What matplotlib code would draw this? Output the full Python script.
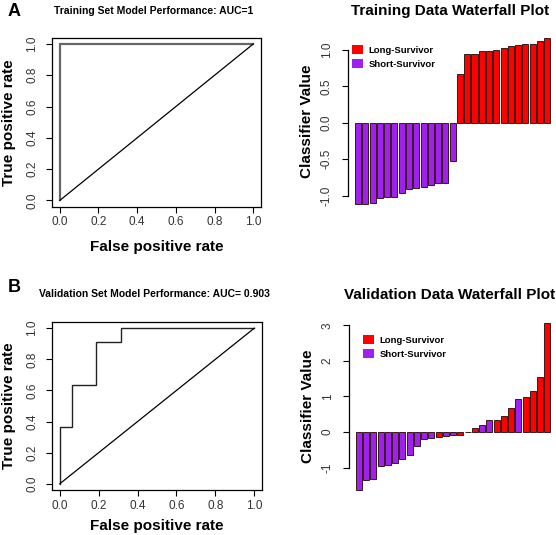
import matplotlib
matplotlib.use("Agg")
import matplotlib.pyplot as plt
from matplotlib.patches import Patch

plt.rcParams['font.family'] = ['Liberation Sans', 'DejaVu Sans']

# ROC curves
train_fpr = [0.0, 0.0, 1.0]
train_tpr = [0.0, 1.0, 1.0]
valid_fpr = [0.0, 0.0, 0.0625, 0.0625, 0.1875, 0.1875, 0.3125, 0.3125, 1.0]
valid_tpr = [0.0, 0.364, 0.364, 0.636, 0.636, 0.909, 0.909, 1.0, 1.0]
roc_ticks = [0.0, 0.2, 0.4, 0.6, 0.8, 1.0]

# waterfall values (sorted) and group: L = long survivor, S = short survivor
train_vals = [-1.12, -1.11, -1.10, -1.03, -1.02, -1.015, -0.96, -0.915, -0.89, -0.885,
              -0.86, -0.83, -0.825, -0.52,
              0.67, 0.94, 0.95, 0.98, 0.98, 1.00, 1.025, 1.05, 1.065, 1.08, 1.085, 1.125, 1.17]
train_grp = ['S'] * 14 + ['L'] * 13
train_ticks = [-1.0, -0.5, 0.0, 0.5, 1.0]
valid_vals = [-1.63, -1.34, -1.31, -0.96, -0.94, -0.88, -0.75, -0.65, -0.38, -0.20, -0.16,
              -0.15, -0.12, -0.095, -0.08, 0.0, 0.11, 0.19, 0.33, 0.35, 0.44, 0.67, 0.92,
              0.97, 1.16, 1.54, 3.07]
valid_grp = ['S'] * 11 + ['L', 'S', 'S', 'L', 'L', 'L', 'S', 'S', 'L', 'L', 'L', 'S',
                          'L', 'L', 'L', 'L']
valid_ticks = [-1, 0, 1, 2, 3]
grp_colors = {'L': '#FF0000', 'S': '#A020F0'}
grp_names = {'L': 'Long-Survivor', 'S': 'Short-Survivor'}

W, H = 556, 535
fig = plt.figure(figsize=(W / 100, H / 100), dpi=100)


def box(l, t, r, b):
    return [l / W, 1 - b / H, (r - l) / W, (b - t) / H]


def roc_panel(rect, fpr, tpr, title, title_y, letter, letter_y, curve_col, curve_lw, xlab_off):
    ax = fig.add_axes(rect)
    ax.plot(fpr, tpr, color=curve_col, lw=curve_lw, solid_joinstyle='miter')
    ax.plot([0, 1], [0, 1], color='black', lw=0.9)
    ax.set_xlim(-0.04, 1.04)
    ax.set_ylim(-0.04, 1.04)
    ax.set_xticks(roc_ticks)
    ax.set_yticks(roc_ticks)
    ax.set_xticklabels(['%.1f' % t for t in roc_ticks])
    ax.set_yticklabels(['%.1f' % t for t in roc_ticks], rotation=90, va='center')
    ax.tick_params(axis='both', direction='out', length=4, width=0.8, labelsize=8.5,
                   labelcolor='#333333')
    ax.tick_params(axis='x', pad=3)
    ax.tick_params(axis='y', pad=6)
    for s in ax.spines.values():
        s.set_linewidth(0.9)
    ax.set_xlabel('False positive rate', fontsize=11, fontweight='bold', va='center')
    ax.xaxis.set_label_coords(0.5, -xlab_off / (rect[3] * H))
    ax.set_ylabel('True positive rate', fontsize=11, fontweight='bold', va='center')
    ax.yaxis.set_label_coords(-43 / (rect[2] * W), 0.5)
    fig.text(154 / W, 1 - title_y / H, title, fontsize=7.5, fontweight='bold',
             ha='center', va='center')
    fig.text(8 / W, 1 - letter_y / H, letter, fontsize=13, fontweight='bold',
             ha='left', va='center')
    return ax


def waterfall_panel(rect, vals, grp, ylim, yticks, tick_fmt, title, title_y, leg_anchor):
    ax = fig.add_axes(rect)
    xs = list(range(len(vals)))
    ax.bar(xs, vals, width=0.83, color=[grp_colors[g] for g in grp],
           edgecolor='#3a1a1a', linewidth=0.7)
    ax.set_xlim(-1.38, 27.2)
    ax.set_ylim(*ylim)
    for k in ['top', 'right', 'bottom']:
        ax.spines[k].set_visible(False)
    ax.spines['left'].set_bounds(yticks[0], yticks[-1])
    ax.spines['left'].set_linewidth(0.9)
    ax.set_xticks([])
    ax.set_yticks(yticks)
    ax.set_yticklabels([tick_fmt % t for t in yticks], rotation=90, va='center')
    ax.tick_params(axis='y', direction='out', length=4, width=0.8, labelsize=8.5,
                   labelcolor='#333333', pad=7)
    ax.set_ylabel('Classifier Value', fontsize=11, fontweight='bold', va='center')
    ax.yaxis.set_label_coords(-41 / (rect[2] * W), 0.5)
    fig.text(450 / W, 1 - title_y / H, title, fontsize=11, fontweight='bold',
             ha='center', va='center')
    handles = [Patch(facecolor=grp_colors[g], edgecolor='none') for g in ['L', 'S']]
    ax.legend(handles, [grp_names['L'], grp_names['S']], loc='upper left',
              bbox_to_anchor=leg_anchor, frameon=False, borderpad=0, borderaxespad=0,
              handlelength=1.2, handleheight=1.05, handletextpad=0.55, labelspacing=0.5,
              prop={'weight': 'bold', 'size': 6.8})
    return ax


roc_panel(box(52, 37.7, 261, 206.7), train_fpr, train_tpr,
          'Training Set Model Performance: AUC=1', 11, 'A', 11, '#666666', 1.6, 40)
roc_panel(box(52, 322, 262, 490), valid_fpr, valid_tpr,
          'Validation Set Model Performance: AUC= 0.903', 294, 'B', 287, '#222222', 1.0, 36)

waterfall_panel(box(348, 31.7, 556, 210.8), train_vals, train_grp, (-1.21, 1.25),
                train_ticks, '%.1f', 'Training Data Waterfall Plot', 11,
                (0.019, 0.926))
waterfall_panel(box(349, 316, 556, 496.4), valid_vals, valid_grp, (-1.81, 3.26),
                valid_ticks, '%d', 'Validation Data Waterfall Plot', 295,
                (0.068, 0.895))

fig.savefig('out.png', dpi=100)
